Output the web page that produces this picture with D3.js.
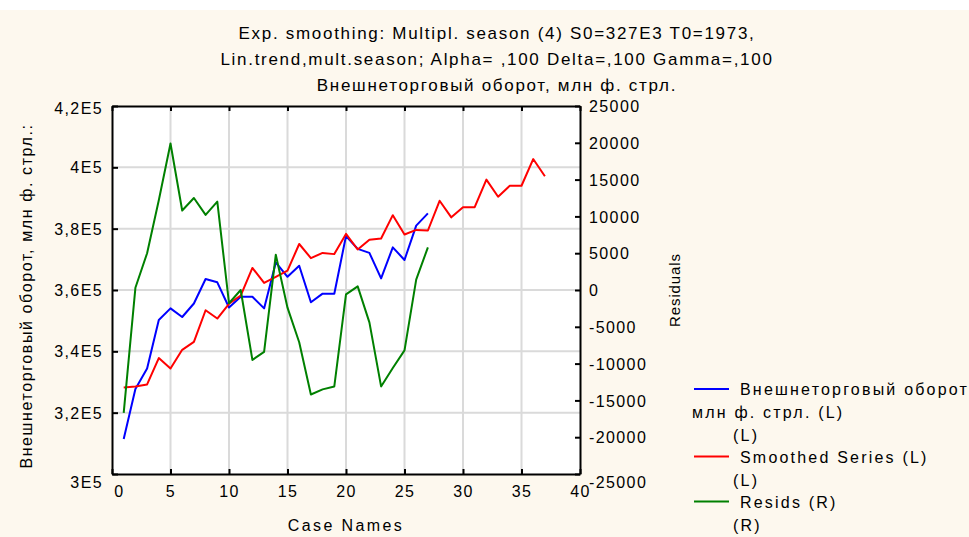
<!DOCTYPE html>
<html>
<head>
<meta charset="utf-8">
<script src="https://cdn.jsdelivr.net/npm/d3@7/dist/d3.min.js"></script>
<style>
  body { margin: 0; background: #fff; }
  text { font-family: "Liberation Sans", Arial, sans-serif; fill: #000; }
</style>
</head>
<body>
<svg id="chart"></svg>
<script>
// title lines
const titleLines = [
    "Exp. smoothing: Multipl. season (4) S0=327E3 T0=1973,",
    "Lin.trend,mult.season; Alpha=  ,100 Delta=,100 Gamma=,100",
    "Внешнеторговый оборот, млн ф. стрл."
]

// series, case 1..n
const trade = [311400, 327700, 334400, 350200, 354000, 351200, 355600, 363600, 362500, 354300,
    357800, 357800, 354000, 369000, 364300, 367900, 356000, 358800, 358800, 377600,
    373400, 372100, 363800, 373900, 369800, 381000, 385000]
const smoothed = [328200, 328500, 329200, 337800, 334400, 340500, 343100, 353400, 350700, 355500,
    358200, 367200, 362300, 364300, 366300, 375000, 370400, 372100, 371700, 378300,
    373200, 376400, 376800, 384400, 378100, 379600, 379400, 389100, 383700, 387000,
    387000, 396000, 390400, 394000, 394000, 402700, 397100]
const resids = [-16700, 300, 5000, 12200, 19900, 10800, 12500, 10200, 12000, -1800,
    0, -9500, -8400, 4800, -2400, -7100, -14200, -13500, -13100, -600,
    500, -4400, -13100, -10600, -8200, 1400, 5800]

// axes
const xTickValues = [0, 5, 10, 15, 20, 25, 30, 35, 40]
const leftTickValues = [300000, 320000, 340000, 360000, 380000, 400000, 420000]
const leftTickLabels = ["3E5", "3,2E5", "3,4E5", "3,6E5", "3,8E5", "4E5", "4,2E5"]
const rightTickValues = [-25000, -20000, -15000, -10000, -5000, 0, 5000, 10000, 15000, 20000, 25000]

const legendItems = [
    {lines: ["Внешнеторговый оборот", "млн ф. стрл. (L)", "(L)"], color: "#0000ff"},
    {lines: ["Smoothed Series (L)", "(L)"], color: "#ff0000"},
    {lines: ["Resids (R)", "(R)"], color: "#008000"}
]

let W = 969, H = 537
let svg = d3.select("#chart").attr("width", W).attr("height", H)

let pL = 112, pR = 580, pT = 106, pB = 474

function translate(x, y) {
    return "translate(" + x + "," + y + ")"
}

let x = d3.scaleLinear().domain([0, 40]).range([pL, pR])
let yL = d3.scaleLinear().domain([300000, 420000]).range([pB, pT])
let yR = d3.scaleLinear().domain([-25000, 25000]).range([pB, pT])

// backgrounds
svg.append("rect").attr("width", W).attr("height", H).attr("fill", "#fff")
svg.append("rect").attr("y", 10).attr("width", W).attr("height", H - 10).attr("fill", "#fdf8ee")
svg.append("rect").attr("x", pL).attr("y", pT)
    .attr("width", pR - pL).attr("height", pB - pT).attr("fill", "#fff")

// title
svg.append("g").selectAll("text").data(titleLines)
    .enter().append("text")
    .attr("x", 497).attr("y", (d, i) => 39 + i * 26)
    .attr("text-anchor", "middle")
    .style("font-size", "17px").style("letter-spacing", "1.7px")
    .text(d => d)

// grid
let grid = svg.append("g").attr("stroke", "#dadada").attr("stroke-width", 2)
grid.selectAll(".vg").data(xTickValues.slice(1, -1))
    .enter().append("line")
    .attr("x1", d => x(d)).attr("x2", d => x(d)).attr("y1", pT).attr("y2", pB)
grid.selectAll(".hg").data(leftTickValues.slice(1, -1))
    .enter().append("line")
    .attr("y1", d => yL(d)).attr("y2", d => yL(d)).attr("x1", pL).attr("x2", pR)

// series
svg.append("clipPath").attr("id", "clip")
    .append("rect").attr("x", pL).attr("y", pT).attr("width", pR - pL).attr("height", pB - pT)

let series = [
    {values: trade, scale: yL, color: "#0000ff"},
    {values: smoothed, scale: yL, color: "#ff0000"},
    {values: resids, scale: yR, color: "#008000"}
]
let plot = svg.append("g").attr("clip-path", "url(#clip)")
series.forEach(s => {
    let line = d3.line().x((d, i) => x(i + 1)).y(d => s.scale(d))
    plot.append("path").datum(s.values)
        .attr("d", line)
        .attr("fill", "none")
        .attr("stroke", s.color)
        .attr("stroke-width", 2)
        .attr("stroke-linejoin", "round")
})

// axes with inward ticks
function styleAxis(g) {
    g.attr("font-family", null).attr("font-size", null)
    g.selectAll(".domain").attr("stroke", "#000").attr("stroke-width", 2)
    g.selectAll(".tick line").attr("stroke", "#000").attr("stroke-width", 2)
    g.selectAll(".tick text")
        .style("font-size", "16px").style("letter-spacing", "1.4px")
}

let xAxis = d3.axisBottom(x).tickValues(xTickValues).tickSize(-5).tickSizeOuter(0).tickPadding(12)
svg.append("g").attr("transform", translate(0, pB)).call(xAxis).call(styleAxis)
    .selectAll(".tick text").attr("dx", d => d == 0 ? 7 : 0)

let xTop = d3.axisTop(x).tickValues(xTickValues).tickSize(-5).tickSizeOuter(0).tickFormat("")
svg.append("g").attr("transform", translate(0, pT)).call(xTop).call(styleAxis)

let yAxisL = d3.axisLeft(yL).tickValues(leftTickValues).tickSize(-6).tickSizeOuter(0).tickPadding(9)
    .tickFormat((d, i) => leftTickLabels[i])
svg.append("g").attr("transform", translate(pL, 0)).call(yAxisL).call(styleAxis)
    .selectAll(".tick text").attr("dy", d => d == 300000 ? "0.85em" : d == 420000 ? "0.45em" : "0.35em")

let yAxisR = d3.axisRight(yR).tickValues(rightTickValues).tickSize(-5).tickSizeOuter(0).tickPadding(9)
    .tickFormat(d => d)
svg.append("g").attr("transform", translate(pR, 0)).call(yAxisR).call(styleAxis)
    .selectAll(".tick text").attr("dy", d => d == -25000 ? "0.85em" : "0.35em")

// axis titles
svg.append("text")
    .attr("transform", translate(32, (pT + pB) / 2 + 6) + " rotate(-90)")
    .attr("text-anchor", "middle")
    .style("font-size", "16px").style("letter-spacing", "1.6px")
    .text("Внешнеторговый оборот, млн ф. стрл.:")

svg.append("text")
    .attr("transform", translate(680, 290) + " rotate(-90)")
    .attr("text-anchor", "middle")
    .style("font-size", "15px").style("letter-spacing", "0.9px")
    .text("Residuals")

svg.append("text")
    .attr("x", (pL + pR) / 2).attr("y", 531)
    .attr("text-anchor", "middle")
    .style("font-size", "16px").style("letter-spacing", "2.4px")
    .text("Case Names")

// legend
let legend = svg.append("g")
let ly = 395
legendItems.forEach(item => {
    legend.append("line")
        .attr("x1", 694).attr("x2", 729).attr("y1", ly - 6).attr("y2", ly - 6)
        .attr("stroke", item.color).attr("stroke-width", 2)
    item.lines.forEach((t, j) => {
        let tx = j == 0 ? 740 : (t.length > 4 ? 692 : 733)
        legend.append("text")
            .attr("x", tx).attr("y", ly + j * 23)
            .style("font-size", "16px").style("letter-spacing", "2.2px")
            .text(t)
    })
    ly += item.lines.length * 22.5
})
</script>
</body>
</html>
